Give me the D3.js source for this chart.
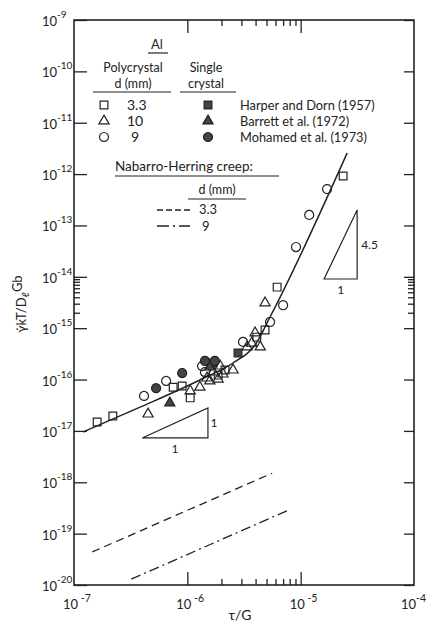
<!DOCTYPE html>
<html>
<head>
<meta charset="utf-8">
<script src="https://cdn.jsdelivr.net/npm/d3@7"></script>
<style>
  body { margin: 0; background: #fff; }
  text { font-family: Lato, "Noto Sans", sans-serif; fill: #222; }
</style>
</head>
<body>
<script>
const width = 427;
const height = 628;
const ink = '#222';

// axis ticks
const xTicks = [1e-7, 1e-6, 1e-5, 1e-4];
const xTickExp = ['-7', '-6', '-5', '-4'];
const xMinor = [2e-6, 3e-6, 4e-6, 5e-6, 6e-6, 7e-6, 8e-6, 9e-6];
const yTicks = [1e-9, 1e-10, 1e-11, 1e-12, 1e-13, 1e-14, 1e-15, 1e-16, 1e-17, 1e-18, 1e-19, 1e-20];
const yTickExp = ['-9', '-10', '-11', '-12', '-13', '-14', '-15', '-16', '-17', '-18', '-19', '-20'];
const yMinor = [2e-15, 3e-15, 4e-15, 5e-15, 6e-15, 7e-15, 8e-15, 9e-15];

// [tau/G, rate kT/(D G b)]
const polySquare33 = [
  [1.6e-7, 1.49e-17], [2.2e-7, 1.95e-17], [7.5e-7, 7.1e-17], [9.0e-7, 7.5e-17],
  [1.06e-6, 4.4e-17], [1.87e-6, 1.22e-16], [2.15e-6, 1.53e-16], [4.1e-6, 6.7e-16],
  [4.85e-6, 9.2e-16], [6.2e-6, 6.3e-15], [2.37e-5, 9.2e-13]
];
const polyTriangle10 = [
  [4.5e-7, 2.13e-17], [1.06e-6, 6.0e-17], [1.29e-6, 7.1e-17], [1.58e-6, 9.4e-17],
  [1.87e-6, 1.02e-16], [2.06e-6, 1.28e-16], [1.95e-6, 1.83e-16], [2.53e-6, 1.53e-16],
  [3.37e-6, 4.3e-16], [3.7e-6, 5.1e-16], [4.4e-6, 4.3e-16], [3.96e-6, 8.1e-16],
  [4.85e-6, 3.1e-15], [1.69e-6, 1.4e-16], [1.49e-6, 1.07e-16]
];
const polyCircle9 = [
  [4.15e-7, 4.8e-17], [6.5e-7, 9.4e-17], [1.43e-6, 1.4e-16], [1.35e-6, 1.83e-16],
  [3.1e-6, 5.4e-16], [5.37e-6, 1.32e-15], [7.0e-6, 2.8e-15], [9.1e-6, 3.8e-14],
  [1.19e-5, 1.6e-13], [1.71e-5, 5.1e-13]
];
const harperDorn = [[2.8e-6, 3.3e-16], [1.69e-6, 2.1e-16]];
const barrett = [[7.0e-7, 3.5e-17], [1.58e-6, 1.75e-16]];
const mohamed = [[5.3e-7, 6.8e-17], [9.0e-7, 1.34e-16], [1.43e-6, 2.3e-16], [1.75e-6, 2.3e-16]];

const fitLine = [
  [1.2e-7, 9.5e-18], [3.83e-7, 2.9e-17], [1.29e-6, 9.8e-17], [2.53e-6, 2.1e-16],
  [3.96e-6, 4.7e-16], [5.37e-6, 1.65e-15], [2.57e-5, 2.57e-12]
];
const nh33 = [[1.45e-7, 4.4e-20], [5.6e-6, 1.5e-18]];
const nh9 = [[3.2e-7, 1.3e-20], [7.9e-6, 2.9e-19]];

// slope triangles: [x0, x1, y0, y1]
const slopeOne = [4.0e-7, 1.52e-6, 7.3e-18, 2.8e-17];
const slopeFour = [1.61e-5, 3.15e-5, 9.06e-15, 2.0e-13];

const x = d3.scaleLog().domain([1e-7, 1e-4]).range([74, 414]);
const y = d3.scaleLog().domain([1e-20, 1e-9]).range([585, 20]);

const svg = d3.select('body').append('svg')
  .attr('width', width)
  .attr('height', height)
  .style('background', '#fff');

// frame
svg.append('rect')
  .attr('x', x.range()[0]).attr('y', y.range()[1])
  .attr('width', x.range()[1] - x.range()[0])
  .attr('height', y.range()[0] - y.range()[1])
  .attr('fill', 'none').attr('stroke', ink).attr('stroke-width', 1.6);

const axisStyle = g => {
  g.select('.domain').remove();
  g.selectAll('line').attr('stroke', ink).attr('stroke-width', 1.3);
};

// left and right axes
svg.append('g').attr('transform', `translate(${x.range()[0]},0)`)
  .call(d3.axisLeft(y).tickValues(yTicks).tickSize(-13).tickFormat(''))
  .call(axisStyle);
svg.append('g').attr('transform', `translate(${x.range()[0]},0)`)
  .call(d3.axisLeft(y).tickValues(yMinor).tickSize(-6).tickFormat(''))
  .call(axisStyle);
svg.append('g').attr('transform', `translate(${x.range()[1]},0)`)
  .call(d3.axisRight(y).tickValues(yTicks).tickSize(-10).tickFormat(''))
  .call(axisStyle);
svg.append('g').attr('transform', `translate(${x.range()[1]},0)`)
  .call(d3.axisRight(y).tickValues(yMinor).tickSize(-6).tickFormat(''))
  .call(axisStyle);

// top and bottom axes
svg.append('g').attr('transform', `translate(0,${y.range()[0]})`)
  .call(d3.axisBottom(x).tickValues(xTicks.slice(1, 3)).tickSize(-13).tickFormat(''))
  .call(axisStyle);
svg.append('g').attr('transform', `translate(0,${y.range()[0]})`)
  .call(d3.axisBottom(x).tickValues(xMinor).tickSize(-6).tickFormat(''))
  .call(axisStyle);
svg.append('g').attr('transform', `translate(0,${y.range()[1]})`)
  .call(d3.axisTop(x).tickValues(xTicks.slice(1, 3)).tickSize(-13).tickFormat(''))
  .call(axisStyle);
svg.append('g').attr('transform', `translate(0,${y.range()[1]})`)
  .call(d3.axisTop(x).tickValues(xMinor).tickSize(-6).tickFormat(''))
  .call(axisStyle);

// tick labels
yTicks.forEach((t, i) => {
  const tx = svg.append('text').attr('x', 42).attr('y', y(t) + 6)
    .attr('font-size', 13);
  tx.append('tspan').text('10');
  tx.append('tspan').attr('dy', -8).attr('font-size', 10).text(yTickExp[i]);
});
xTicks.forEach((t, i) => {
  const last = i === xTicks.length - 1;
  const tx = svg.append('text').attr('x', x(t) - (last ? 13 : 11)).attr('y', 609)
    .attr('font-size', 13);
  tx.append('tspan').text('10');
  tx.append('tspan').attr('dy', -7).attr('font-size', 10.5)
    .text((last ? '' : ' ') + xTickExp[i]);
});

// axis titles
svg.append('text').attr('x', 240).attr('y', 620)
  .attr('text-anchor', 'middle').attr('font-size', 14).text('\u03c4/G');

const yl = svg.append('text')
  .attr('transform', 'translate(26,304) rotate(-90)')
  .attr('text-anchor', 'middle').attr('font-size', 13);
yl.append('tspan').text('\u03b3\u0307kT/D');
yl.append('tspan').attr('dy', 3).attr('font-size', 10).text('\u2113');
yl.append('tspan').attr('dy', -7).text('Gb');

// lines
const curve = d3.line().x(d => x(d[0])).y(d => y(d[1])).curve(d3.curveMonotoneX);
svg.append('path').datum(fitLine).attr('d', curve)
  .attr('fill', 'none').attr('stroke', ink).attr('stroke-width', 1.5);
const straight = d3.line().x(d => x(d[0])).y(d => y(d[1]));
svg.append('path').datum(nh33).attr('d', straight)
  .attr('fill', 'none').attr('stroke', ink).attr('stroke-width', 1.3)
  .attr('stroke-dasharray', '8,5');
svg.append('path').datum(nh9).attr('d', straight)
  .attr('fill', 'none').attr('stroke', ink).attr('stroke-width', 1.3)
  .attr('stroke-dasharray', '10,4,2,4');

// slope triangles
[slopeOne, slopeFour].forEach(s => {
  const pts = [[s[0], s[2]], [s[1], s[2]], [s[1], s[3]]];
  svg.append('path')
    .attr('d', 'M' + pts.map(p => [x(p[0]), y(p[1])].join(',')).join('L') + 'Z')
    .attr('fill', 'none').attr('stroke', ink).attr('stroke-width', 1.2);
});
const smallText = (px, py, s, anchor) => svg.append('text')
  .attr('x', px).attr('y', py).attr('font-size', 12)
  .attr('text-anchor', anchor || 'middle').text(s);
smallText((x(slopeOne[0]) + x(slopeOne[1])) / 2, y(slopeOne[2]) + 15, '1');
smallText(x(slopeOne[1]) + 6, (y(slopeOne[2]) + y(slopeOne[3])) / 2 + 4, '1');
smallText((x(slopeFour[0]) + x(slopeFour[1])) / 2, y(slopeFour[2]) + 15, '1');
smallText(x(slopeFour[1]) + 4, (y(slopeFour[2]) + y(slopeFour[3])) / 2 + 4, '4.5', 'start');

// data points
const drawSymbols = (data, type, size, fill) => {
  svg.append('g').selectAll('path').data(data).enter().append('path')
    .attr('transform', d => `translate(${x(d[0])},${y(d[1])})`)
    .attr('d', d3.symbol(type, size))
    .attr('fill', fill)
    .attr('stroke', ink).attr('stroke-width', 1.2);
};
drawSymbols(polySquare33, d3.symbolSquare, 60, 'none');
drawSymbols(polyTriangle10, d3.symbolTriangle, 45, 'none');
drawSymbols(polyCircle9, d3.symbolCircle, 64, 'none');
drawSymbols(harperDorn, d3.symbolSquare, 60, '#444');
drawSymbols(barrett, d3.symbolTriangle, 45, '#444');
drawSymbols(mohamed, d3.symbolCircle, 64, '#444');

// legend
const legendText = (px, py, s, size, anchor) => svg.append('text')
  .attr('x', px).attr('y', py).attr('font-size', size || 12.5)
  .attr('text-anchor', anchor || 'start').text(s);
const rule = (x1, x2, yy) => svg.append('line')
  .attr('x1', x1).attr('x2', x2).attr('y1', yy).attr('y2', yy)
  .attr('stroke', ink).attr('stroke-width', 1.2);

legendText(157, 49, 'Al', 13, 'middle');
rule(148, 168, 53);
legendText(133, 72, 'Polycrystal', 12.5, 'middle');
legendText(133, 88, 'd (mm)', 12.5, 'middle');
rule(93, 171, 92);
legendText(206, 72, 'Single', 12.5, 'middle');
legendText(206, 88, 'crystal', 12.5, 'middle');
rule(180, 236, 92);

const legendRows = [
  {open: d3.symbolSquare, label: '3.3', source: 'Harper and Dorn (1957)', size: 60},
  {open: d3.symbolTriangle, label: '10', source: 'Barrett et al. (1972)', size: 45},
  {open: d3.symbolCircle, label: '9', source: 'Mohamed et al. (1973)', size: 64}
];
legendRows.forEach((r, i) => {
  const cy = 105 + i * 16;
  svg.append('path').attr('transform', `translate(104,${cy})`)
    .attr('d', d3.symbol(r.open, r.size)).attr('fill', 'none')
    .attr('stroke', ink).attr('stroke-width', 1.2);
  svg.append('path').attr('transform', `translate(208,${cy})`)
    .attr('d', d3.symbol(r.open, r.size)).attr('fill', '#444')
    .attr('stroke', ink).attr('stroke-width', 1.2);
  legendText(i === 2 ? 131 : 127, cy + 5, r.label, 14);
  legendText(240, cy + 5, r.source, 12.8);
});

legendText(115, 171, 'Nabarro-Herring creep:', 13.5);
rule(115, 279, 176);
legendText(217, 194, 'd (mm)', 12.5, 'middle');
rule(188, 246, 199);
svg.append('line').attr('x1', 157).attr('x2', 190).attr('y1', 210).attr('y2', 210)
  .attr('stroke', ink).attr('stroke-width', 1.3).attr('stroke-dasharray', '6,3');
svg.append('line').attr('x1', 157).attr('x2', 190).attr('y1', 226).attr('y2', 226)
  .attr('stroke', ink).attr('stroke-width', 1.3).attr('stroke-dasharray', '12,4,2,4');
legendText(199, 214, '3.3', 13);
legendText(202, 231, '9', 13);
</script>
</body>
</html>
